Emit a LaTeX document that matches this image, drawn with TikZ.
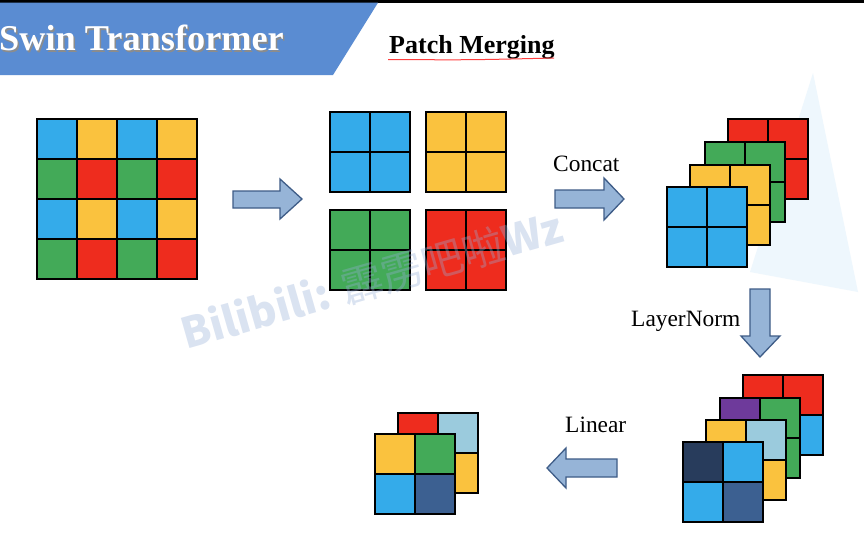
\documentclass[tikz,border=0pt]{standalone}
\usepackage{fontspec}
\setmainfont{Liberation Serif}
\newfontfamily\cjkfont{Noto Sans CJK SC}

\definecolor{cellblue}{RGB}{52,171,234}
\definecolor{cellyellow}{RGB}{250,194,62}
\definecolor{cellgreen}{RGB}{67,170,88}
\definecolor{cellred}{RGB}{238,44,30}
\definecolor{cellpurple}{RGB}{110,58,155}
\definecolor{celllight}{RGB}{155,203,221}
\definecolor{cellnavy}{RGB}{40,60,92}
\definecolor{cellsteel}{RGB}{60,96,145}
\definecolor{bannerblue}{RGB}{90,140,210}
\definecolor{arrowfill}{RGB}{150,180,215}
\definecolor{arrowline}{RGB}{62,92,135}
\definecolor{wmark}{RGB}{150,175,215}
\definecolor{glow}{RGB}{238,247,253}

% 2x2 patch: x, y (top left), colours TL, TR, BL, BR
\newcommand{\patchsq}[6]{%
	\fill[#3] (#1,#2) rectangle ++(40,40);
	\fill[#4] (#1+40,#2) rectangle ++(40,40);
	\fill[#5] (#1,#2+40) rectangle ++(40,40);
	\fill[#6] (#1+40,#2+40) rectangle ++(40,40);
	\draw[cellline] (#1,#2) rectangle ++(80,80);
	\draw[cellline] (#1+40,#2) -- ++(0,80);
	\draw[cellline] (#1,#2+40) -- ++(80,0);
}

\begin{document}
\begin{tikzpicture}[x=1pt, y=-1pt,
	cellline/.style={black, line width=1.2pt},
	blockarrow/.style={fill=arrowfill, draw=arrowline, line width=1.3pt, line join=miter},
	lbl/.style={anchor=base west, inner sep=0pt, font=\fontsize{23.4}{26}\selectfont}]
	\useasboundingbox (0,0) rectangle (864,535);
	\fill[white] (0,0) rectangle (864,535);
	\fill[glow] (813,73) -- (858,292) -- (750,272) -- cycle;
	\fill[black] (0,0) rectangle (864,2.7);
	% title banner
	\fill[bannerblue] (0,2.7) -- (378,2.7) -- (333,75) -- (0,75) -- cycle;
	\node[anchor=base west, inner sep=0pt, text=black!45, font=\bfseries\fontsize{36.3}{40}\selectfont] (titleshadow) at (0.5,52.5) {Swin Transformer};
	\node[anchor=base west, inner sep=0pt, text=white, font=\bfseries\fontsize{36.3}{40}\selectfont] (title) at (-1,51) {Swin Transformer};
	\node[anchor=base west, inner sep=0pt, font=\bfseries\fontsize{26}{30}\selectfont] (subtitle) at (389,53) {Patch Merging};
	\draw[red!75, line width=1pt] (388,59.5) .. controls (470,60) .. (554,58);
	% input feature map
	\foreach \col/\row/\c in {0/0/cellblue,1/0/cellyellow,2/0/cellblue,3/0/cellyellow,
		0/1/cellgreen,1/1/cellred,2/1/cellgreen,3/1/cellred,
		0/2/cellblue,1/2/cellyellow,2/2/cellblue,3/2/cellyellow,
		0/3/cellgreen,1/3/cellred,2/3/cellgreen,3/3/cellred}
		\fill[\c] (37+40*\col,119+40*\row) rectangle ++(40,40);
	\foreach \i in {1,2,3} {
		\draw[cellline] (37+40*\i,119) -- ++(0,160);
		\draw[cellline] (37,119+40*\i) -- ++(160,0);
	}
	\draw[cellline] (37,119) rectangle (197,279);
	\draw[blockarrow] (233,191) -- (280,191) -- (280,179) -- (302,199) -- (280,219) -- (280,208) -- (233,208) -- cycle;
	% the four patches
	\patchsq{330}{112}{cellblue}{cellblue}{cellblue}{cellblue}
	\patchsq{426}{112}{cellyellow}{cellyellow}{cellyellow}{cellyellow}
	\patchsq{330}{210}{cellgreen}{cellgreen}{cellgreen}{cellgreen}
	\patchsq{426}{210}{cellred}{cellred}{cellred}{cellred}
	\node[lbl] (concat) at (553,171) {Concat};
	\draw[blockarrow] (555,190) -- (604,190) -- (604,178) -- (624,199) -- (604,220) -- (604,208) -- (555,208) -- cycle;
	% concatenated
	\patchsq{728}{119}{cellred}{cellred}{cellred}{cellred}
	\patchsq{705}{142}{cellgreen}{cellgreen}{cellgreen}{cellgreen}
	\patchsq{690}{165}{cellyellow}{cellyellow}{cellyellow}{cellyellow}
	\patchsq{667}{187}{cellblue}{cellblue}{cellblue}{cellblue}
	\node[lbl] (norm) at (631,326) {LayerNorm};
	\draw[blockarrow] (750,289) -- (770,289) -- (770,336) -- (780,336) -- (760,357) -- (741,336) -- (750,336) -- cycle;
	% normalised
	\patchsq{743}{375}{cellred}{cellred}{cellred}{cellblue}
	\patchsq{720}{398}{cellpurple}{cellgreen}{cellgreen}{cellgreen}
	\patchsq{706}{420}{cellyellow}{celllight}{cellyellow}{cellyellow}
	\patchsq{683}{442}{cellnavy}{cellblue}{cellblue}{cellsteel}
	\node[lbl] (linear) at (565,432) {Linear};
	\draw[blockarrow] (617,459) -- (566,459) -- (566,448) -- (547,468) -- (566,488) -- (566,477) -- (617,477) -- cycle;
	% output
	\patchsq{398}{413}{cellred}{celllight}{cellyellow}{cellyellow}
	\patchsq{375}{434}{cellyellow}{cellgreen}{cellblue}{cellsteel}
	% watermark
	\node[rotate=16, text=wmark, text opacity=0.35, inner sep=0pt, font=\cjkfont\fontsize{42}{46}\selectfont] (wm) at (372,280) {\textbf{Bilibili:} 霹雳吧啦\textbf{Wz}};
\end{tikzpicture}
\end{document}
